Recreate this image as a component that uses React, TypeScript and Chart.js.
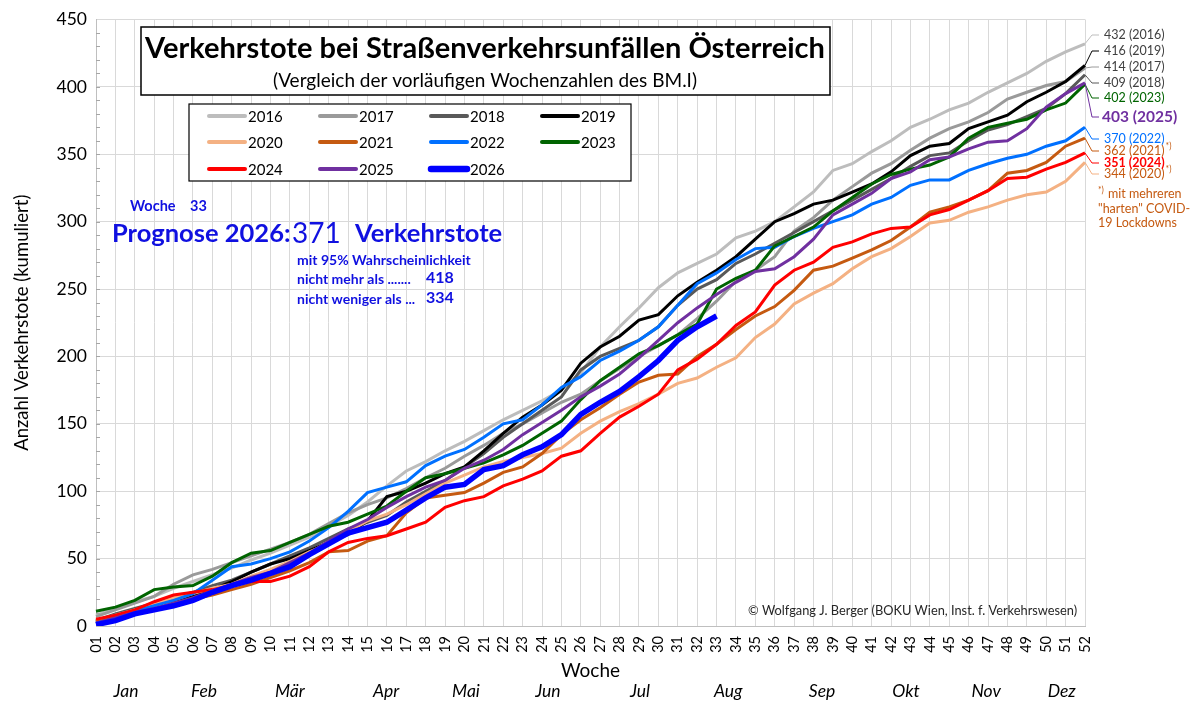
import { useEffect, useRef } from "react"
import { Chart, registerables } from "chart.js"

Chart.register(...registerables)

// Kalenderwochen 01..52
const weeks = [
    "01", "02", "03", "04", "05", "06", "07", "08", "09", "10",
    "11", "12", "13", "14", "15", "16", "17", "18", "19", "20",
    "21", "22", "23", "24", "25", "26", "27", "28", "29", "30",
    "31", "32", "33", "34", "35", "36", "37", "38", "39", "40",
    "41", "42", "43", "44", "45", "46", "47", "48", "49", "50",
    "51", "52",
]

// kumulierte Verkehrstote je Woche
const v2016 = [8, 13, 18, 22, 28, 33, 38, 43, 49, 54, 60, 66, 74, 82, 92, 104, 115, 122, 130, 137, 145, 153, 160, 167, 175, 188, 207, 222, 236, 251, 262, 269, 276, 288, 293, 300, 311, 322, 338, 343, 352, 360, 370, 376, 383, 388, 396, 403, 410, 419, 426, 432]
const v2017 = [7, 12, 17, 22, 31, 38, 42, 47, 52, 57, 62, 68, 76, 84, 90, 95, 102, 110, 117, 126, 134, 143, 150, 158, 166, 172, 182, 191, 200, 208, 216, 228, 241, 256, 264, 274, 293, 303, 316, 326, 336, 343, 353, 362, 369, 374, 381, 391, 396, 401, 404, 414]
const v2018 = [4, 9, 13, 17, 21, 25, 30, 34, 40, 46, 52, 58, 65, 72, 77, 82, 92, 100, 108, 118, 128, 140, 150, 160, 170, 190, 200, 206, 212, 222, 238, 250, 257, 269, 276, 284, 292, 300, 308, 316, 324, 332, 341, 349, 351, 360, 368, 372, 378, 384, 395, 409]
const v2019 = [3, 7, 10, 12, 17, 22, 27, 33, 40, 46, 50, 56, 62, 68, 78, 96, 100, 106, 113, 118, 130, 143, 155, 164, 175, 195, 207, 215, 227, 231, 245, 255, 264, 274, 287, 300, 306, 313, 316, 322, 328, 337, 349, 356, 358, 369, 374, 379, 389, 396, 404, 416]
const v2020 = [4, 8, 12, 16, 21, 24, 28, 31, 37, 42, 48, 55, 61, 70, 78, 83, 90, 98, 106, 112, 118, 122, 125, 128, 132, 143, 152, 159, 165, 172, 180, 184, 192, 199, 214, 224, 239, 247, 254, 265, 274, 280, 289, 299, 301, 307, 311, 316, 320, 322, 330, 344]
const v2021 = [3, 6, 9, 12, 16, 20, 23, 27, 31, 36, 41, 47, 55, 56, 63, 67, 84, 95, 97, 99, 106, 114, 118, 128, 142, 153, 162, 172, 181, 186, 187, 200, 209, 220, 230, 237, 249, 264, 267, 273, 279, 286, 296, 307, 311, 316, 323, 336, 338, 344, 356, 362]
const v2022 = [2, 6, 11, 15, 19, 24, 34, 44, 46, 50, 55, 63, 73, 85, 99, 103, 107, 119, 126, 131, 140, 150, 153, 164, 177, 185, 197, 204, 212, 222, 238, 254, 262, 272, 280, 281, 289, 295, 300, 305, 313, 318, 327, 331, 331, 338, 343, 347, 350, 356, 360, 370]
const v2023 = [11, 14, 19, 27, 29, 30, 37, 47, 54, 56, 62, 68, 74, 77, 83, 89, 100, 110, 113, 117, 121, 127, 134, 143, 152, 168, 182, 192, 202, 208, 216, 224, 250, 258, 264, 282, 289, 296, 308, 318, 328, 335, 339, 342, 348, 362, 370, 373, 376, 383, 388, 402]
const v2024 = [5, 8, 12, 18, 23, 25, 27, 30, 33, 33, 37, 44, 55, 62, 65, 67, 72, 77, 88, 93, 96, 104, 109, 115, 126, 130, 143, 155, 163, 172, 190, 198, 209, 223, 233, 253, 264, 270, 281, 285, 291, 295, 296, 305, 309, 316, 323, 332, 333, 339, 344, 351]
const v2025 = [2, 6, 10, 13, 17, 21, 26, 31, 36, 40, 47, 54, 63, 72, 79, 88, 96, 103, 108, 117, 123, 131, 142, 151, 160, 170, 178, 187, 199, 212, 225, 236, 246, 255, 263, 265, 274, 287, 305, 313, 321, 332, 337, 346, 348, 354, 359, 360, 369, 385, 395, 403]
const v2026 = [1, 4, 9, 12, 15, 19, 25, 30, 34, 39, 44, 53, 61, 69, 73, 77, 86, 95, 103, 105, 116, 119, 127, 133, 142, 157, 166, 174, 185, 197, 212, 222, 230]

// Prognose
const forecast = 371
const forecastMax = 418
const forecastMin = 334

// Monatsnamen, zentriert auf Wochennummer
const months = ["Jan", "Feb", "Mär", "Apr", "Mai", "Jun", "Jul", "Aug", "Sep", "Okt", "Nov", "Dez"]
const monthWeeks = [2.55, 6.57, 11.0, 15.96, 20.08, 24.3, 29.05, 33.6, 38.44, 42.77, 46.9, 50.8]

const FONT = "Lato, 'Open Sans', sans-serif"
const BLUE_TEXT = "#1010e0"

const series = [
    { year: 2016, data: v2016, color: "#bdbdbd", width: 3 },
    { year: 2017, data: v2017, color: "#9a9a9a", width: 3 },
    { year: 2018, data: v2018, color: "#595959", width: 3 },
    { year: 2019, data: v2019, color: "#000000", width: 3 },
    { year: 2020, data: v2020, color: "#f4b183", width: 3 },
    { year: 2021, data: v2021, color: "#c55a11", width: 3 },
    { year: 2022, data: v2022, color: "#0070ff", width: 3 },
    { year: 2023, data: v2023, color: "#006400", width: 3 },
    { year: 2024, data: v2024, color: "#ff0000", width: 3 },
    { year: 2025, data: v2025, color: "#7030a0", width: 3 },
    { year: 2026, data: v2026, color: "#0000ff", width: 5.5 },
]

// Beschriftung am rechten Rand
const endLabels: Record<number, { y: number; color: string; bold?: boolean; size?: number; star?: boolean }> = {
    2016: { y: 35, color: "#404040" },
    2019: { y: 51, color: "#404040" },
    2017: { y: 67, color: "#404040" },
    2018: { y: 83, color: "#404040" },
    2023: { y: 98, color: "#006400" },
    2025: { y: 117, color: "#7030a0", bold: true, size: 15.5 },
    2022: { y: 139, color: "#0070ff" },
    2021: { y: 151, color: "#c55a11", star: true },
    2024: { y: 163, color: "#ff0000", bold: true },
    2020: { y: 174, color: "#c55a11", star: true },
}

const overlay = {
    id: "overlay",
    afterDraw(chart: any) {
        const { ctx, chartArea, scales } = chart
        const xs = scales.x
        const ys = scales.y
        ctx.save()

        // kleine Hilfsstriche an der y-Achse
        ctx.strokeStyle = "#a6a6a6"
        ctx.lineWidth = 1
        for (let v = 10; v < 450; v += 10) {
            const py = Math.round(ys.getPixelForValue(v)) + 0.5
            ctx.beginPath()
            ctx.moveTo(chartArea.left, py)
            ctx.lineTo(chartArea.left + 4, py)
            ctx.stroke()
        }

        // Monate
        ctx.fillStyle = "#000"
        ctx.font = `italic 17.5px ${FONT}`
        ctx.textAlign = "center"
        ctx.textBaseline = "middle"
        months.forEach((m, i) => {
            ctx.fillText(m, xs.getPixelForValue(monthWeeks[i] - 1), 691)
        })

        // Titelbox
        ctx.fillStyle = "#fff"
        ctx.fillRect(141, 27, 689, 68)
        ctx.strokeStyle = "#000"
        ctx.lineWidth = 1.5
        ctx.strokeRect(141, 27, 689, 68)
        ctx.fillStyle = "#000"
        ctx.textBaseline = "alphabetic"
        ctx.font = `bold 29px ${FONT}`
        ctx.fillText("Verkehrstote bei Straßenverkehrsunfällen Österreich", 485, 58)
        ctx.font = `19px ${FONT}`
        ctx.fillText("(Vergleich der vorläufigen Wochenzahlen des BM.I)", 485, 87)

        // Legende
        ctx.fillStyle = "#fff"
        ctx.fillRect(189, 104, 442, 77)
        ctx.strokeStyle = "#000"
        ctx.lineWidth = 1.2
        ctx.strokeRect(189, 104, 442, 77)
        const colX = [209, 320, 431, 542]
        const rowY = [116, 142, 169]
        ctx.textAlign = "left"
        ctx.textBaseline = "middle"
        ctx.font = `15px ${FONT}`
        series.forEach((s, i) => {
            const lx = colX[i % 4]
            const ly = rowY[Math.floor(i / 4)]
            ctx.strokeStyle = s.color
            ctx.lineWidth = s.width + 1
            ctx.lineCap = "round"
            ctx.beginPath()
            ctx.moveTo(lx, ly)
            ctx.lineTo(lx + 36, ly)
            ctx.stroke()
            ctx.fillStyle = "#000"
            ctx.fillText(String(s.year), lx + 39, ly + 1)
        })
        ctx.lineCap = "butt"

        // Prognose
        const current = series[series.length - 1]
        ctx.fillStyle = BLUE_TEXT
        ctx.textBaseline = "alphabetic"
        ctx.font = `bold 14.5px ${FONT}`
        ctx.fillText("Woche", 130, 211)
        ctx.fillText(String(current.data.length), 190, 211)
        ctx.font = `bold 25.5px ${FONT}`
        ctx.fillText(`Prognose ${current.year}:`, 112, 242)
        ctx.font = `28px ${FONT}`
        ctx.fillText(String(forecast), 292, 243)
        ctx.font = `bold 25.5px ${FONT}`
        ctx.fillText("Verkehrstote", 355, 242)
        ctx.font = `bold 14px ${FONT}`
        ctx.fillText("mit 95% Wahrscheinlichkeit", 297, 265)
        ctx.fillText("nicht mehr als .......", 297, 284)
        ctx.fillText("nicht weniger als ...", 297, 304)
        ctx.font = `bold 16px ${FONT}`
        ctx.fillText(String(forecastMax), 426, 283)
        ctx.fillText(String(forecastMin), 426, 303)

        // Endwerte rechts
        ctx.textBaseline = "middle"
        series.forEach((s, i) => {
            const cfg = endLabels[s.year]
            if (!cfg) return
            const meta = chart.getDatasetMeta(i)
            const pt = meta.data[meta.data.length - 1]
            ctx.strokeStyle = s.color
            ctx.lineWidth = 1
            ctx.beginPath()
            ctx.moveTo(pt.x, pt.y)
            ctx.lineTo(pt.x + 7, cfg.y)
            ctx.lineTo(pt.x + 14, cfg.y)
            ctx.stroke()
            const size = cfg.size || 12.5
            ctx.font = `${cfg.bold ? "bold " : ""}${size}px ${FONT}`
            ctx.fillStyle = cfg.color
            const txt = `${s.data[s.data.length - 1]} (${s.year})`
            const tx = cfg.size ? 1102 : 1104
            ctx.fillText(txt, tx, cfg.y)
            if (cfg.star) {
                const w = ctx.measureText(txt).width
                ctx.font = `8.5px ${FONT}`
                ctx.fillText("*)", tx + w + 1, cfg.y - 5)
            }
        })

        // Fußnote
        ctx.fillStyle = "#c55a11"
        ctx.font = `8.5px ${FONT}`
        ctx.fillText("*)", 1098, 190)
        ctx.font = `12.5px ${FONT}`
        ctx.fillText("mit mehreren", 1108, 194)
        ctx.fillText("\"harten\" COVID-", 1098, 209)
        ctx.fillText("19 Lockdowns", 1098, 223)

        // Copyright
        ctx.fillStyle = "#262626"
        ctx.font = `12.8px ${FONT}`
        ctx.textBaseline = "alphabetic"
        ctx.fillText("© Wolfgang J. Berger (BOKU Wien, Inst. f. Verkehrswesen)", 748, 615)

        ctx.restore()
    },
}

export default function App() {
    const chartRef = useRef<HTMLCanvasElement>(null)
    const chartInstance = useRef<Chart | null>(null)

    useEffect(() => {
        if (!chartRef.current) return
        const ctx = chartRef.current.getContext("2d")
        if (!ctx) return

        if (chartInstance.current) {
            chartInstance.current.destroy()
        }

        chartInstance.current = new Chart(ctx, {
            type: "line",
            data: {
                labels: weeks,
                datasets: series.map((s) => ({
                    label: String(s.year),
                    data: s.data,
                    borderColor: s.color,
                    backgroundColor: s.color,
                    borderWidth: s.width,
                    pointRadius: 0,
                    tension: 0,
                    fill: false,
                    order: 2026 - s.year,
                })),
            },
            options: {
                responsive: false,
                animation: false,
                layout: { padding: { top: 19, right: 111, bottom: 0, left: 0 } },
                plugins: {
                    legend: { display: false },
                    tooltip: { enabled: false },
                },
                scales: {
                    x: {
                        type: "category",
                        offset: false,
                        grid: { color: "#d9d9d9", drawTicks: false },
                        border: { color: "#bfbfbf" },
                        ticks: {
                            autoSkip: false,
                            minRotation: 90,
                            maxRotation: 90,
                            padding: 10,
                            color: "#000",
                            font: { family: FONT, size: 14.5 },
                        },
                        title: {
                            display: true,
                            text: "Woche",
                            color: "#000",
                            font: { family: FONT, size: 19 },
                            padding: { top: 0, bottom: 31 },
                        },
                        afterFit: (s: any) => {
                            s.height = 87
                        },
                    },
                    y: {
                        min: 0,
                        max: 450,
                        ticks: {
                            stepSize: 50,
                            padding: 9,
                            color: "#000",
                            font: { family: FONT, size: 17.5 },
                        },
                        grid: { color: "#d9d9d9", drawTicks: false },
                        border: { color: "#bfbfbf" },
                        title: {
                            display: true,
                            text: "Anzahl Verkehrstote (kumuliert)",
                            color: "#000",
                            font: { family: FONT, size: 18.5 },
                            padding: { top: 11, bottom: 0 },
                        },
                        afterFit: (s: any) => {
                            s.width = 96
                        },
                    },
                },
            },
            plugins: [overlay],
        })

        return () => {
            if (chartInstance.current) {
                chartInstance.current.destroy()
                chartInstance.current = null
            }
        }
    }, [])

    return (
        <div style={{ position: "absolute", left: 0, top: 0, width: 1196, height: 713, background: "#fff" }}>
            <canvas ref={chartRef} width={1196} height={713}></canvas>
        </div>
    )
}
